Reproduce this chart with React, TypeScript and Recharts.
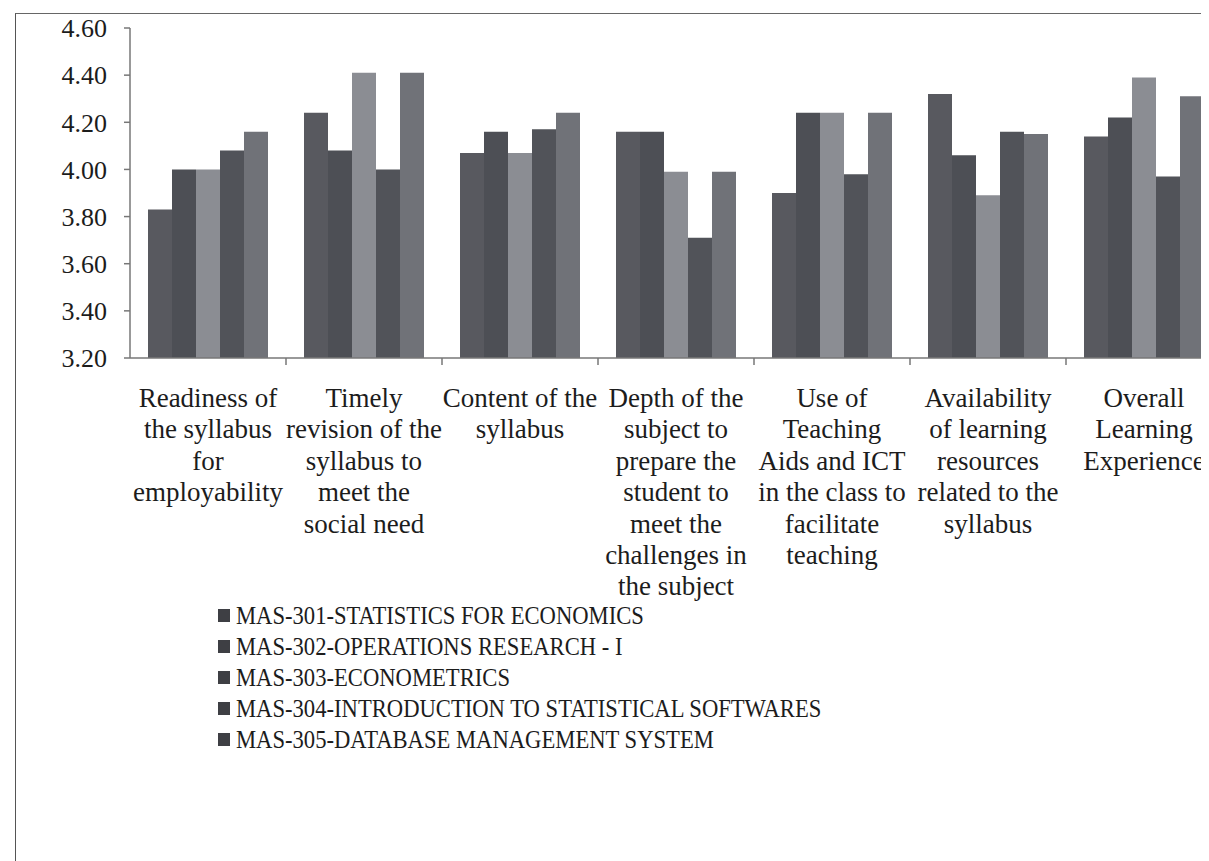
import React from 'react';
import { BarChart, Bar, XAxis, YAxis, Legend } from 'recharts';

const CATEGORIES = [
  'Readiness of\nthe syllabus\nfor\nemployability',
  'Timely\nrevision of the\nsyllabus to\nmeet the\nsocial need',
  'Content of the\nsyllabus',
  'Depth of the\nsubject to\nprepare the\nstudent to\nmeet the\nchallenges in\nthe subject',
  'Use of\nTeaching\nAids and ICT\nin the class to\nfacilitate\nteaching',
  'Availability\nof learning\nresources\nrelated to the\nsyllabus',
  'Overall\nLearning\nExperience',
];

const MAS301 = [3.83, 4.24, 4.07, 4.16, 3.9, 4.32, 4.14];
const MAS302 = [4.0, 4.08, 4.16, 4.16, 4.24, 4.06, 4.22];
const MAS303 = [4.0, 4.41, 4.07, 3.99, 4.24, 3.89, 4.39];
const MAS304 = [4.08, 4.0, 4.17, 3.71, 3.98, 4.16, 3.97];
const MAS305 = [4.16, 4.41, 4.24, 3.99, 4.24, 4.15, 4.31];

const SERIES_NAMES = [
  'MAS-301-STATISTICS FOR ECONOMICS',
  'MAS-302-OPERATIONS RESEARCH - I',
  'MAS-303-ECONOMETRICS',
  'MAS-304-INTRODUCTION TO STATISTICAL SOFTWARES',
  'MAS-305-DATABASE MANAGEMENT SYSTEM',
];

const Y_TICKS = [3.2, 3.4, 3.6, 3.8, 4.0, 4.2, 4.4, 4.6];

const COLORS = ['#58595f', '#4d4f55', '#8b8d93', '#515359', '#707278'];
const FONT = "'Liberation Serif', 'DejaVu Serif', 'Times New Roman', serif";
const TEXT = '#1c1c1c';

// layout
const CHART_W = 1214;
const CHART_H = 853;
const Y_AXIS_W = 122;
const BAND = (CHART_W - Y_AXIS_W) / CATEGORIES.length;

const data = CATEGORIES.map((cat, i) => ({
  cat,
  s1: MAS301[i],
  s2: MAS302[i],
  s3: MAS303[i],
  s4: MAS304[i],
  s5: MAS305[i],
}));

const CatTick = ({ x, y, payload }: any) => {
  const lines = String(payload.value).split('\n');
  return (
    <g>
      <line x1={x + BAND / 2} x2={x + BAND / 2} y1={y} y2={y + 7} stroke="#777" strokeWidth={1.5} />
      <text x={x} y={y + 49} textAnchor="middle" fill={TEXT} fontSize={27} style={{ fontFamily: FONT }}>
        {lines.map((l, i) => (
          <tspan key={i} x={x} dy={i === 0 ? 0 : 31.4}>{l}</tspan>
        ))}
      </text>
    </g>
  );
};

const YTick = ({ x, y, payload }: any) => (
  <text x={x} y={y} dy="0.355em" textAnchor="end" fill={TEXT} fontSize={26} style={{ fontFamily: FONT }}>
    {Number(payload.value).toFixed(2)}
  </text>
);

const LegendRows = ({ payload }: any) => (
  <div style={{ fontFamily: FONT, fontSize: 26, color: TEXT, lineHeight: '31px' }}>
    {(payload || []).map((p: any, i: number) => (
      <div key={i} style={{ display: 'flex', alignItems: 'center', whiteSpace: 'nowrap' }}>
        <span style={{ display: 'inline-block', width: 12, height: 13, background: '#3e3f44', marginRight: 6 }} />
        <span style={{ display: 'inline-block', transform: 'scaleX(0.87)', transformOrigin: 'left center' }}>{p.value}</span>
      </div>
    ))}
  </div>
);

export default function App() {
  return (
    <div style={{ position: 'relative', width: 1201, height: 853, overflow: 'hidden', background: '#fff', fontFamily: FONT }}>
      <div
        style={{
          position: 'absolute', left: 7, top: 5, width: 1400, height: 1000,
          borderLeft: '1.5px solid #555', borderTop: '1.5px solid #666',
        }}
      />
      <div style={{ position: 'absolute', left: 0, top: 0 }}>
        <BarChart
          width={CHART_W}
          height={CHART_H}
          data={data}
          margin={{ top: 20, right: 0, bottom: 0, left: 0 }}
          barCategoryGap={18}
          barGap={0}
          style={{ fontFamily: FONT }}
        >
          <XAxis
            dataKey="cat"
            interval={0}
            height={503}
            tickLine={false}
            tickSize={0}
            tickMargin={0}
            axisLine={{ stroke: '#777', strokeWidth: 1.5 }}
            tick={<CatTick />}
          />
          <YAxis
            width={Y_AXIS_W}
            domain={[3.2, 4.6]}
            ticks={Y_TICKS}
            axisLine={{ stroke: '#777', strokeWidth: 1.5 }}
            tickLine={{ stroke: '#777', strokeWidth: 1.5 }}
            tickSize={6}
            tickMargin={17}
            tick={<YTick />}
            allowDataOverflow
          />
          <Legend
            layout="vertical"
            align="center"
            verticalAlign="middle"
            wrapperStyle={{ position: 'absolute', left: 210, top: 592, width: 800 }}
            content={<LegendRows />}
          />
          {['s1', 's2', 's3', 's4', 's5'].map((k, i) => (
            <Bar key={k} dataKey={k} name={SERIES_NAMES[i]} fill={COLORS[i]} isAnimationActive={false} />
          ))}
        </BarChart>
      </div>
    </div>
  );
}
